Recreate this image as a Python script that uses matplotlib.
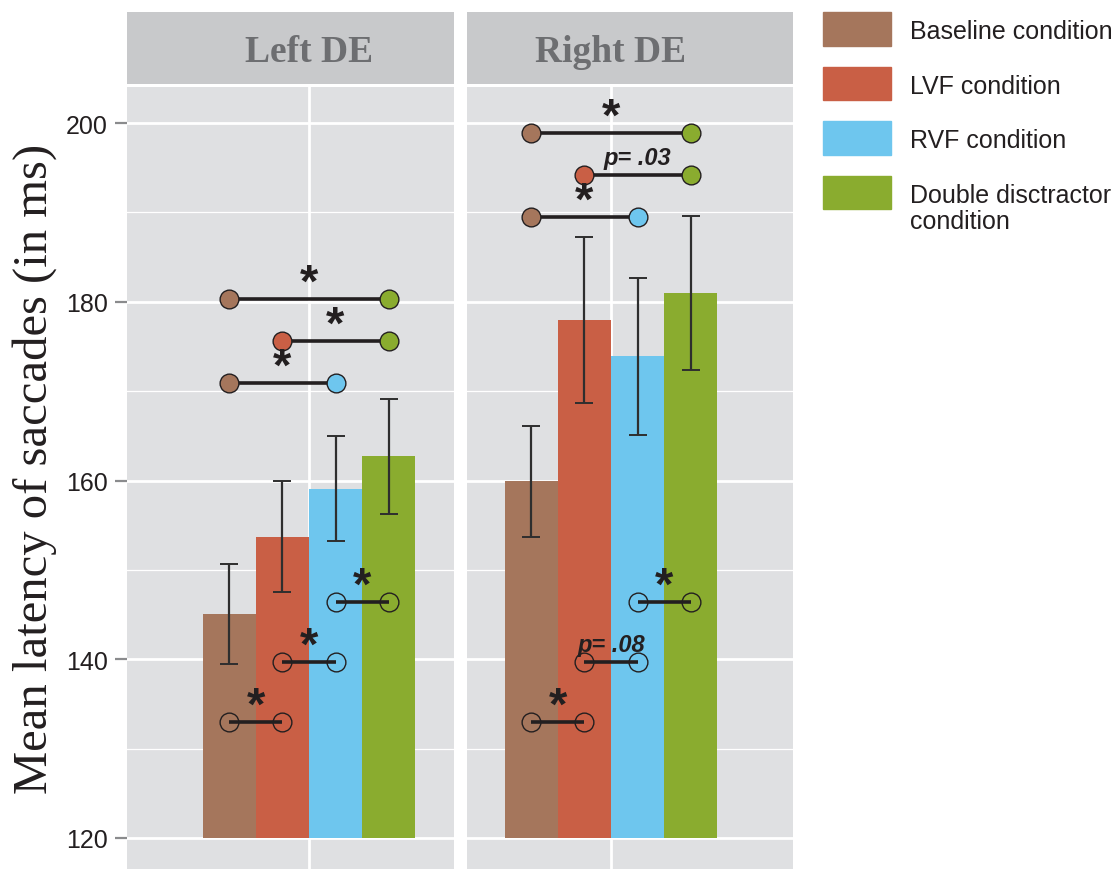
import numpy as np
import matplotlib
matplotlib.use("Agg")
import matplotlib.pyplot as plt
from matplotlib.patches import Rectangle

# ==============================
# DATA
# ==============================
conditions = ["Baseline condition", "LVF condition", "RVF condition",
              "Double disctractor\ncondition"]
colors = ["#A5765C", "#C95F45", "#6EC6EE", "#8AAC2F"]
panels = ["Left DE", "Right DE"]

means_left = [145.1, 153.7, 159.1, 162.7]
se_left = [5.6, 6.2, 5.9, 6.4]
means_right = [159.9, 178.0, 173.9, 181.0]
se_right = [6.2, 9.3, 8.8, 8.6]

# comparisons: (bar i, bar j, y level, label)
top_left = [(0, 3, 180.3, "*"), (1, 3, 175.6, "*"), (0, 2, 170.9, "*")]
bottom_left = [(0, 1, 133.0, "*"), (1, 2, 139.7, "*"), (2, 3, 146.4, "*")]
top_right = [(0, 3, 198.9, "*"), (1, 3, 194.2, "p= .03"), (0, 2, 189.5, "*")]
bottom_right = [(0, 1, 133.0, "*"), (1, 2, 139.7, "p= .08"), (2, 3, 146.4, "*")]

yticks = [120, 140, 160, 180, 200]

# ==============================
# STYLE
# ==============================
W, H = 1119, 870
bg = "#DFE0E2"
strip_bg = "#C8C9CB"
ink = "#231F20"
bar_w = 0.225
xpos = (np.arange(4) - 1.5) * bar_w
unit = 235.6  # px per x unit
ylo, yhi = 116.53, 204.03

fig = plt.figure(figsize=(W / 100, H / 100), dpi=100)

# panel left edge, bar centre, right edge (px)
panel_px = [(127, 309, 454), (466.5, 611, 793)]
data = [(means_left, se_left, top_left, bottom_left),
        (means_right, se_right, top_right, bottom_right)]

for k, (name, (p0, pc, p1)) in enumerate(zip(panels, panel_px)):
    means, se, top, bottom = data[k]
    xl = (-(pc - p0) / unit, (p1 - pc) / unit)
    ax = fig.add_axes([p0 / W, 0, (p1 - p0) / W, 782 / H])
    ax.set_facecolor(bg)
    for s in ax.spines.values():
        s.set_visible(False)
    ax.set_xlim(*xl)
    ax.set_ylim(ylo, yhi)
    ax.set_xticks([0])
    ax.set_xticklabels([])
    ax.tick_params(axis="x", length=0)
    ax.set_yticks(yticks)
    ax.set_yticks([130, 150, 170, 190], minor=True)
    ax.grid(True, which="major", color="white", lw=2.0)
    ax.grid(True, which="minor", axis="y", color="white", lw=0.9)
    ax.set_axisbelow(True)
    if k == 0:
        ax.tick_params(axis="y", which="major", length=9, width=1.6,
                       color="#8A8B8D", pad=5, labelsize=18, labelcolor=ink)
        for lab in ax.get_yticklabels():
            lab.set_family("Liberation Sans")
    else:
        ax.tick_params(axis="y", which="major", length=0, labelleft=False)
    ax.tick_params(axis="y", which="minor", length=0)

    ax.bar(xpos, np.array(means) - 120, bottom=120, width=bar_w,
           color=colors, zorder=2)
    ax.errorbar(xpos, means, yerr=se, fmt="none", ecolor="#2E2E2E",
                elinewidth=1.6, capsize=6.5, capthick=1.4, zorder=3)

    for group, filled in ((top, True), (bottom, False)):
        for i, j, y, lab in group:
            ax.plot([xpos[i], xpos[j]], [y, y], color=ink, lw=2.6, zorder=4,
                    solid_capstyle="butt")
            for b in (i, j):
                ax.plot(xpos[b], y, "o", ms=13.5, mec=ink, mew=1.0,
                        mfc=colors[b] if filled else "none", zorder=5)
            xm = (xpos[i] + xpos[j]) / 2
            if lab == "*":
                ax.text(xm, y + 0.35, "*", ha="center", va="baseline",
                        fontsize=34, fontweight="bold", color=ink,
                        family="Liberation Sans", zorder=6)
            else:
                ax.text(xm, y + 1.25, lab, ha="center", va="baseline",
                        fontsize=17, fontweight="bold", fontstyle="italic",
                        color=ink, family="Liberation Sans", zorder=6)

    # strip on top
    sax = fig.add_axes([p0 / W, 1 - 85 / H, (p1 - p0) / W, 72 / H])
    sax.set_facecolor(strip_bg)
    sax.set_xlim(*xl)
    sax.set_ylim(0, 1)
    sax.set_xticks([])
    sax.set_yticks([])
    for s in sax.spines.values():
        s.set_visible(False)
    sax.text(0, 0.45, name, ha="center", va="center", fontsize=27,
             fontweight="bold", color="#6D6E71", family="Liberation Serif")

fig.text(35 / W, 0.5 * (1 - 143 / H) + 0.5 * (1 - 795 / H),
         "Mean latency of saccades (in ms)", rotation=90, ha="center",
         va="center", fontsize=35, color=ink, family="Liberation Serif")

# legend
rows = [(13, 47), (68, 101), (122, 156), (177, 210)]
for (t, b), c, lab in zip(rows, colors, conditions):
    fig.add_artist(Rectangle((823 / W, 1 - b / H), 68 / W, (b - t) / H,
                             transform=fig.transFigure, color=c))
    if "\n" in lab:
        fig.text(910 / W, 1 - (t + 7) / H, lab, ha="left", va="top",
                 fontsize=18, color=ink, family="Liberation Sans",
                 linespacing=1.13)
    else:
        fig.text(910 / W, 1 - ((t + b) / 2 + 2) / H, lab, ha="left",
                 va="center", fontsize=18, color=ink,
                 family="Liberation Sans")

plt.savefig("out.png", dpi=100)
